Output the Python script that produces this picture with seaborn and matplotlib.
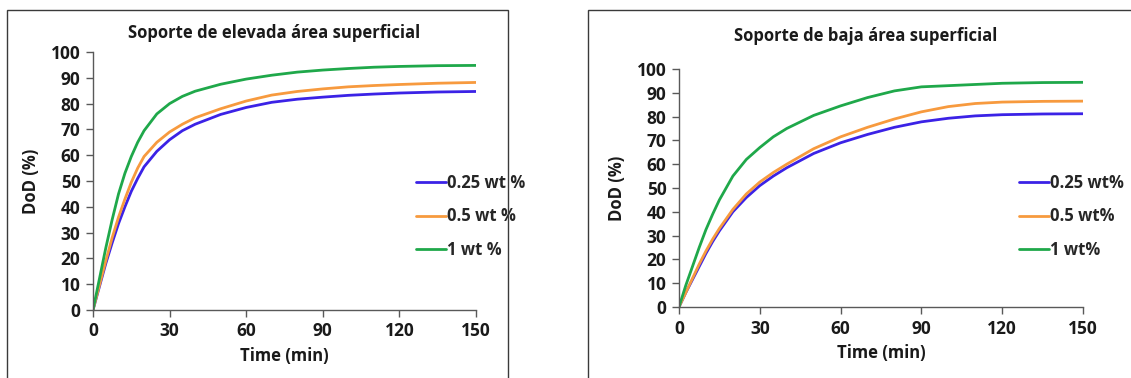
import numpy as np
import pandas as pd
import matplotlib
matplotlib.use("Agg")
import matplotlib.pyplot as plt
from matplotlib.patches import Rectangle
import seaborn as sns

sns.set_theme(style="white")
plt.rcParams['font.family'] = ['Open Sans', 'DejaVu Sans']

# ---- data ----
time = [0, 2.5, 5, 7.5, 10, 12.5, 15, 17.5, 20, 25, 30, 35, 40, 50, 60, 70, 80, 90,
        100, 110, 120, 135, 150]

# Left panel: Soporte de elevada área superficial
high_025 = [0, 9, 18, 26, 33.5, 40, 46, 51, 55.5, 61.5, 66, 69.5, 72, 75.8, 78.5, 80.5,
            81.7, 82.5, 83.2, 83.7, 84.1, 84.5, 84.7]
high_05 = [0, 9.5, 19, 28, 36, 43, 49.5, 55, 59.5, 65, 69, 72, 74.5, 78, 81, 83.3,
           84.7, 85.7, 86.5, 87, 87.4, 87.9, 88.2]
high_1 = [0, 12, 24, 35, 45, 53, 59.5, 65, 69.5, 76, 80, 82.8, 84.8, 87.5, 89.5, 91,
          92.2, 93, 93.6, 94.1, 94.4, 94.7, 94.8]

# Right panel: Soporte de baja área superficial
low_025 = [0, 6, 11.5, 17, 22.5, 27.5, 32, 36, 40, 46, 51, 55, 58.5, 64.5, 69, 72.5,
           75.5, 77.8, 79.3, 80.3, 80.8, 81.1, 81.2]
low_05 = [0, 6, 12, 18, 23.5, 28.5, 33, 37, 41, 47.5, 52.5, 56.5, 60, 66.5, 71.5, 75.5,
          79, 82, 84.2, 85.5, 86.1, 86.4, 86.5]
low_1 = [0, 9, 17, 25, 32.5, 39, 45, 50, 55, 62, 67, 71.5, 75, 80.5, 84.5, 88, 90.8,
         92.5, 93, 93.5, 94, 94.3, 94.4]

labels_high = ["0.25 wt %", "0.5 wt %", "1 wt %"]
labels_low = ["0.25 wt%", "0.5 wt%", "1 wt%"]
titles = ["Soporte de elevada área superficial", "Soporte de baja área superficial"]
xticks = [0, 30, 60, 90, 120, 150]
yticks = [0, 10, 20, 30, 40, 50, 60, 70, 80, 90, 100]
colors = ["#3B22E6", "#F79A3E", "#1FA84A"]


def long_df(series, labels):
    rows = []
    for s, lab in zip(series, labels):
        for t, v in zip(time, s):
            rows.append({"Time": t, "DoD": v, "Serie": lab})
    return pd.DataFrame(rows)


W, H = 1131, 378
fig = plt.figure(figsize=(W / 100, H / 100), dpi=100)

# panel borders
fig.patches.append(Rectangle((7 / W, -0.05), (508 - 7) / W, (H - 10) / H + 0.05,
                             transform=fig.transFigure, fill=False,
                             edgecolor="#3a3a3a", linewidth=1.0))
fig.patches.append(Rectangle((588 / W, -0.05), 0.5, (H - 10) / H + 0.05,
                             transform=fig.transFigure, fill=False,
                             edgecolor="#3a3a3a", linewidth=1.0))

ax1 = fig.add_axes([93 / W, (H - 310) / H, (476 - 93) / W, (310 - 52) / H])
ax2 = fig.add_axes([679 / W, (H - 307) / H, (1083 - 679) / W, (307 - 69) / H])

panels = [
    (ax1, long_df([high_025, high_05, high_1], labels_high), labels_high, titles[0],
     (447, 183), (274, 33)),
    (ax2, long_df([low_025, low_05, low_1], labels_low), labels_low, titles[1],
     (1050, 183), (866, 36)),
]

for ax, df, labs, title, leg_xy, title_xy in panels:
    sns.lineplot(data=df, x="Time", y="DoD", hue="Serie", hue_order=labs,
                 palette=dict(zip(labs, colors)), linewidth=2.0, ax=ax,
                 legend=True)
    for ln in ax.get_lines():
        ln.set_solid_joinstyle("round")
        ln.set_solid_capstyle("round")
    ax.set_xlim(0, 150)
    ax.set_ylim(0, 100)
    ax.set_xticks(xticks)
    ax.set_yticks(yticks)
    for lab in ax.get_xticklabels() + ax.get_yticklabels():
        lab.set_fontweight("bold")
        lab.set_fontsize(12.5)
        lab.set_color("#1a1a1a")
    ax.tick_params(axis="both", which="both", direction="out", length=5,
                   width=1, color="#595959", left=True, bottom=True, pad=4)
    ax.set_xlabel("Time (min)", fontsize=12, fontweight="bold", color="#1a1a1a", labelpad=5)
    ax.set_ylabel("DoD (%)", fontsize=12, fontweight="bold", color="#1a1a1a", labelpad=8)
    for sp in ["top", "right"]:
        ax.spines[sp].set_visible(False)
    for sp in ["left", "bottom"]:
        ax.spines[sp].set_color("#595959")
        ax.spines[sp].set_linewidth(1)
    ax.set_facecolor("none")
    handles, _ = ax.get_legend_handles_labels()
    ax.legend(handles, labs, loc="upper left",
              bbox_to_anchor=((leg_xy[0] - 38) / W, (H - leg_xy[1] + 16) / H),
              bbox_transform=fig.transFigure, frameon=False,
              prop={"weight": "bold", "size": 12}, handlelength=1.8,
              handletextpad=0.1, labelspacing=0.95, borderaxespad=0)
    fig.text(title_xy[0] / W, (H - title_xy[1]) / H, title, ha="center", va="center",
             fontsize=12, fontweight="bold", color="#1a1a1a")

fig.savefig("out.png", dpi=100)
